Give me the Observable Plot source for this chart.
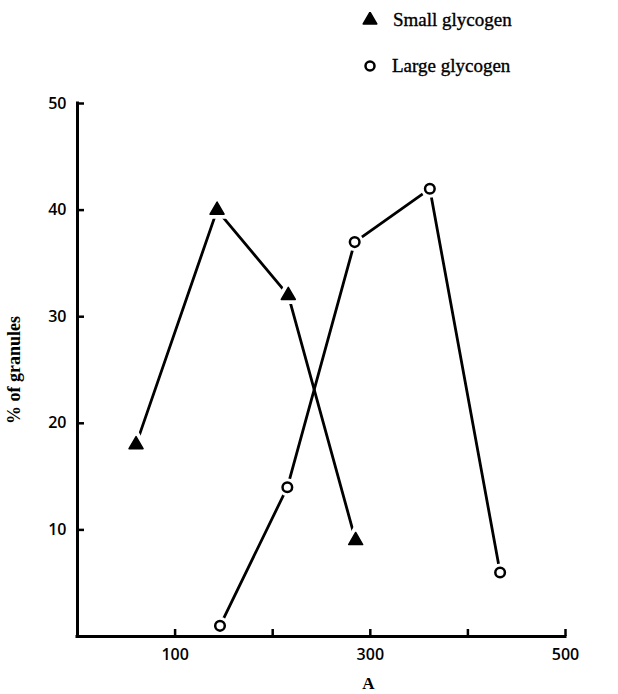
<!DOCTYPE html>
<html>
<head>
<meta charset="utf-8">
<script src="https://cdn.jsdelivr.net/npm/d3@7"></script>
<script src="https://cdn.jsdelivr.net/npm/@observablehq/plot@0.6"></script>
<style>
  html, body { margin: 0; padding: 0; background: #fff; }
  #wrap { position: relative; width: 618px; height: 694px; }
  #legend { position: relative; width: 618px; height: 80px; font-family: "Liberation Serif", serif; font-size: 19px; color: #000; -webkit-text-stroke: 0.35px #000; }
  .item { position: absolute; height: 24px; }
  .item svg { position: absolute; }
  .item span { position: absolute; white-space: nowrap; line-height: 24px; }
</style>
</head>
<body>
<div id="wrap">
  <div id="legend"></div>
  <div id="chart"></div>
</div>
<script>
// ---- data ----
const seriesNames = ["Small glycogen", "Large glycogen"];
const smallX = [60, 143, 216, 285];
const smallY = [18, 40, 32, 9];
const largeX = [146, 215, 284, 361, 433];
const largeY = [1, 14, 37, 42, 6];
const xTicks = [100, 200, 300, 400, 500];
const xTickLabels = [100, 300, 500];
const yTicks = [10, 20, 30, 40, 50];
const xTitle = "A";
const yTitle = "% of granules";

const small = smallX.map((x, i) => ({x, y: smallY[i]}));
const large = largeX.map((x, i) => ({x, y: largeY[i]}));

// ---- legend (HTML) ----
const legend = document.getElementById("legend");
legend.innerHTML = `
  <div class="item" style="left:0;top:8px;width:618px;">
    <svg width="16" height="16" style="left:362px;top:4px;" viewBox="-8 -8 16 16">
      <path d="${d3.symbol(d3.symbolTriangle, 80)()}" fill="#000" stroke="#000" stroke-width="1.5" stroke-linejoin="round"/>
    </svg>
    <span style="left:393px;top:0;">${seriesNames[0]}</span>
  </div>
  <div class="item" style="left:0;top:54px;width:618px;">
    <svg width="16" height="16" style="left:362px;top:4px;" viewBox="-8 -8 16 16">
      <circle r="4.5" fill="#fff" stroke="#000" stroke-width="2.5"/>
    </svg>
    <span style="left:392px;top:0;">${seriesNames[1]}</span>
  </div>`;

// ---- chart ----
const chart = Plot.plot({
  width: 618,
  height: 614,
  marginLeft: 77,
  marginRight: 53,
  marginTop: 23,
  marginBottom: 58,
  style: {fontFamily: "Open Sans", fontSize: "16px", color: "#000", background: "#fff"},
  x: {domain: [0, 500]},
  y: {domain: [0, 50]},
  marks: [
    // tick marks pointing inward
    Plot.axisY(yTicks, {anchor: "left", tickSize: 7, dx: 7, text: null, label: null, strokeWidth: 2.5}),
    Plot.axisX(xTicks, {anchor: "bottom", tickSize: 7, dy: -7, text: null, label: null, strokeWidth: 2.5}),
    // tick labels
    Plot.axisY(yTicks, {anchor: "left", tickSize: 0, tickPadding: 11, label: null, fontSize: 16, fontWeight: 600}),
    Plot.axisX(xTickLabels, {anchor: "bottom", tickSize: 0, tickPadding: 12, label: null, fontSize: 16, fontWeight: 600}),
    // axis lines
    Plot.ruleX([0], {strokeWidth: 3, strokeLinecap: "square"}),
    Plot.ruleY([0], {strokeWidth: 3, strokeLinecap: "square"}),
    // axis titles
    Plot.text([yTitle], {frameAnchor: "left", textAnchor: "middle", lineAnchor: "middle", rotate: -90, dx: -63, fontFamily: "Liberation Serif", fontSize: 18, fontWeight: "bold"}),
    Plot.text([xTitle], {frameAnchor: "bottom", textAnchor: "middle", lineAnchor: "bottom", dx: 47, dy: 52, fontFamily: "Liberation Serif", fontSize: 17, fontWeight: "bold"}),
    // lines
    Plot.line(small, {x: "x", y: "y", stroke: "#000", strokeWidth: 2.8}),
    Plot.line(large, {x: "x", y: "y", stroke: "#000", strokeWidth: 2.8}),
    // halos
    Plot.dot(small, {x: "x", y: "y", symbol: "triangle", r: 5.2, fill: "#fff", stroke: "#fff", strokeWidth: 9}),
    Plot.dot(large, {x: "x", y: "y", symbol: "circle", r: 5, fill: "#fff", stroke: "#fff", strokeWidth: 8}),
    // markers
    Plot.dot(small, {x: "x", y: "y", symbol: "triangle", r: 5.2, fill: "#000", stroke: "#000", strokeWidth: 1.5, strokeLinejoin: "round"}),
    Plot.dot(large, {x: "x", y: "y", symbol: "circle", r: 4.8, fill: "#fff", stroke: "#000", strokeWidth: 2.5})
  ]
});
document.getElementById("chart").appendChild(chart);
</script>
</body>
</html>
